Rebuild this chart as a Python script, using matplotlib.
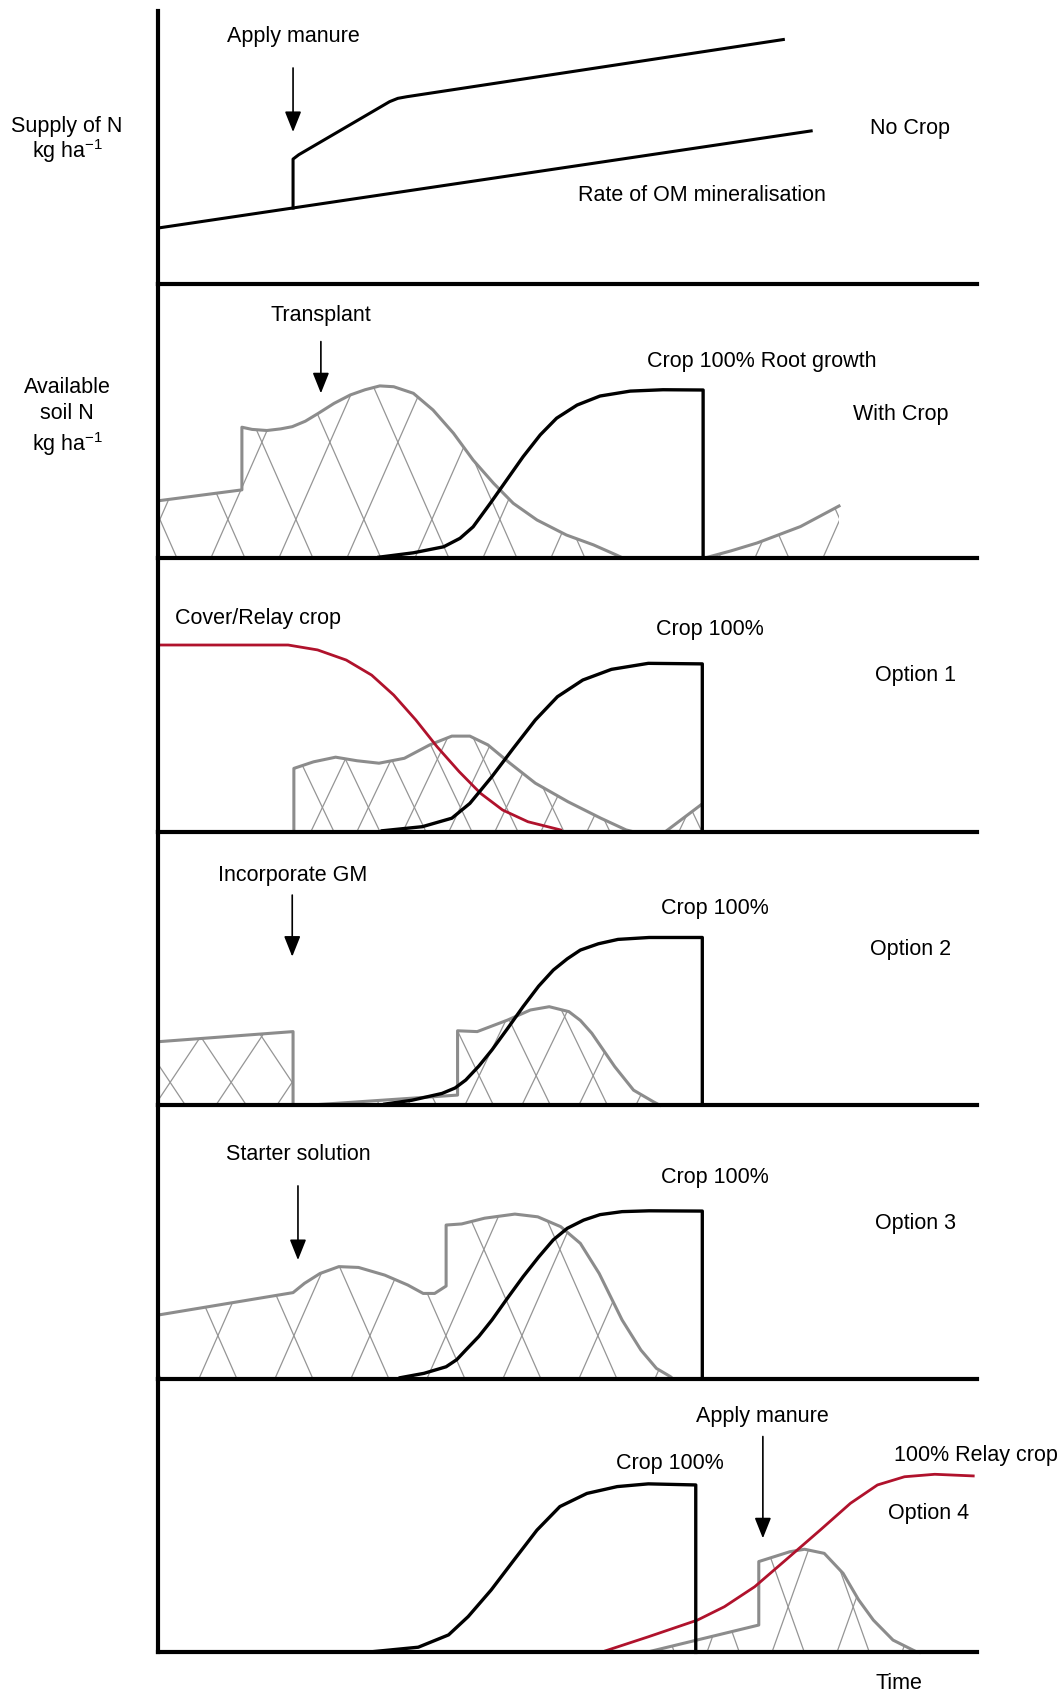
import numpy as np
import matplotlib
matplotlib.use("Agg")
import matplotlib.pyplot as plt
from matplotlib.patches import Polygon
from matplotlib.collections import LineCollection

plt.rcParams['font.family'] = ['Liberation Sans', 'DejaVu Sans']
plt.rcParams['font.size'] = 15.5

# ---- data (time 0-100 along x, N 0-100 within each panel) ----
# panel 1: no crop
om_t = [0, 79.8]
om_n = [20.6, 56.1]
manure_t = [16.5, 16.5, 17.2, 28.3, 29.3, 30.4, 76.4]
manure_n = [27.9, 45.8, 47.4, 66.8, 68.0, 68.6, 89.5]

# panel 2: with crop
soil2_t = [0, 10.25, 10.25, 11.5, 13.3, 15.0, 16.4, 18.0, 19.6, 21.5, 23.5, 25.3, 27.1, 28.8,
           31.2, 33.6, 36.1, 38.5, 41.0, 43.4, 46.3, 49.9, 53.2, 56.0, 56.8]
soil2_n = [20.9, 24.9, 47.8, 47.0, 46.6, 47.2, 48.0, 50.0, 52.9, 56.5, 59.6, 61.5, 62.9, 62.6,
           60.2, 54.1, 45.6, 35.8, 27.3, 20.0, 13.9, 8.4, 4.8, 1.1, 0]
soil2b_t = [66.8, 70.0, 73.2, 78.5, 83.2]
soil2b_n = [0, 2.6, 5.5, 11.5, 19.0]
crop2_t = [27.0, 31.2, 34.9, 36.9, 38.5, 40.6, 42.6, 44.6, 46.7, 48.7, 51.2, 54.0, 57.7, 61.7, 66.6, 66.6]
crop2_n = [0.3, 1.9, 4.1, 7.2, 11.4, 20.0, 28.5, 37.0, 45.0, 51.1, 55.9, 59.2, 61.0, 61.5, 61.4, 0]

# panel 3: option 1
relay3_t = [0, 15.9, 19.5, 23.0, 26.1, 28.8, 31.5, 34.1, 36.8, 39.4, 42.1, 45.2, 49.2]
relay3_n = [68.2, 68.2, 66.4, 62.7, 57.2, 49.9, 40.8, 31.0, 21.9, 14.0, 7.9, 3.6, 0.6]
soil3_t = [16.6, 16.6, 19.0, 21.7, 24.3, 27.0, 30.1, 33.2, 35.9, 38.1, 40.3, 43.0, 46.1, 50.1, 54.1, 57.2, 58.0]
soil3_n = [0, 23.1, 25.5, 27.2, 25.9, 25.0, 26.8, 31.7, 34.9, 34.9, 31.7, 25.0, 17.7, 10.9, 4.9, 0.6, 0]
soil3b_t = [62.0, 66.3]
soil3b_n = [0, 9.7]
crop3_t = [27.4, 32.3, 35.9, 38.1, 40.8, 43.4, 46.1, 48.8, 51.9, 55.4, 59.9, 66.5, 66.5]
crop3_n = [0.3, 1.8, 4.9, 10.3, 20.1, 30.4, 40.8, 49.3, 55.4, 59.3, 61.5, 61.3, 0]

# panel 4: option 2
soil4a_t = [0, 16.5, 16.5]
soil4a_n = [23.2, 26.9, 0]
soil4_t = [18.4, 36.6, 36.6, 39.0, 42.7, 45.5, 47.8, 50.2, 51.6, 53.0, 55.8, 58.1, 60.5, 61.3]
soil4_n = [0, 3.7, 27.2, 26.9, 31.1, 34.8, 36.0, 34.2, 31.0, 26.3, 14.1, 5.5, 1.3, 0]
crop4_t = [27.7, 31.0, 34.7, 36.3, 37.6, 39.2, 40.8, 42.7, 44.6, 46.5, 48.3, 50.0, 51.6, 53.8, 56.2, 60.0, 66.5, 66.5]
crop4_n = [0.4, 1.8, 4.3, 6.3, 9.2, 14.3, 20.2, 28.0, 36.0, 43.5, 49.4, 53.5, 56.7, 59.0, 60.6, 61.3, 61.3, 0]

# panel 5: option 3
soil5_t = [0, 16.5, 17.9, 19.8, 22.1, 24.5, 27.7, 30.5, 32.4, 33.8, 35.2, 35.2, 37.1, 39.9,
           43.6, 46.4, 49.2, 51.6, 53.9, 56.7, 59.0, 60.9, 62.6, 62.9]
soil5_n = [23.3, 31.5, 34.9, 38.5, 41.0, 40.7, 37.9, 34.3, 31.2, 31.2, 33.9, 56.2, 56.6, 58.7,
           60.2, 59.2, 55.6, 49.5, 38.5, 21.5, 10.5, 3.8, 0.8, 0]
crop5_t = [29.6, 32.5, 35.2, 36.5, 37.6, 39.2, 40.8, 42.7, 44.6, 46.5, 48.3, 50.0, 52.0, 54.0, 56.7, 60.0, 66.5, 66.5]
crop5_n = [0.4, 2.0, 4.4, 7.0, 10.5, 15.5, 21.5, 29.5, 37.3, 44.5, 50.8, 55.0, 58.0, 60.0, 61.1, 61.4, 61.3, 0]

# panel 6: option 4
crop6_t = [26.0, 31.8, 35.5, 37.9, 40.7, 43.5, 46.3, 49.1, 52.4, 56.1, 59.9, 65.7, 65.7]
crop6_n = [0.2, 1.9, 6.4, 13.1, 22.8, 33.8, 44.7, 53.3, 58.1, 60.6, 61.6, 61.2, 0]
relay6_t = [54.7, 59.9, 65.9, 69.2, 72.9, 76.7, 80.9, 84.6, 87.9, 91.2, 94.9, 99.6]
relay6_n = [0.6, 5.7, 11.8, 16.7, 24.0, 33.8, 44.7, 54.5, 61.2, 64.2, 65.1, 64.5]
soil6_t = [59.9, 73.4, 73.4, 77.2, 79.0, 81.4, 83.7, 85.6, 87.4, 89.8, 92.6, 93.0]
soil6_n = [0.2, 10.0, 33.2, 36.8, 37.7, 36.2, 28.9, 19.2, 11.8, 4.5, 0.3, 0]

# arrows: (panel, time, top N, tip N, label, label N)
arrows = [(0, 16.5, 79.1, 55.7, 'Apply manure', 90.5),
          (1, 19.9, 79.1, 60.2, 'Transplant', 88.5),
          (3, 16.4, 76.8, 54.3, 'Incorporate GM', 84.1),
          (4, 17.1, 70.5, 43.4, 'Starter solution', 81.8),
          (5, 73.9, 78.9, 41.7, 'Apply manure', 86.2)]

# free labels: (panel, time, N, text, ha)
labels = [(0, 66.4, 32.4, 'Rate of OM mineralisation', 'center'),
          (0, 91.9, 56.9, 'No Crop', 'center'),
          (1, 73.8, 71.9, 'Crop 100% Root growth', 'center'),
          (1, 90.8, 52.6, 'With Crop', 'center'),
          (2, 2.1, 77.9, 'Cover/Relay crop', 'left'),
          (2, 67.4, 73.9, 'Crop 100%', 'center'),
          (2, 92.6, 56.9, 'Option 1', 'center'),
          (3, 68.0, 71.9, 'Crop 100%', 'center'),
          (3, 91.9, 56.9, 'Option 2', 'center'),
          (4, 68.0, 73.5, 'Crop 100%', 'center'),
          (4, 92.6, 56.9, 'Option 3', 'center'),
          (5, 62.5, 69.2, 'Crop 100%', 'center'),
          (5, 99.9, 71.9, '100% Relay crop', 'center'),
          (5, 94.1, 50.6, 'Option 4', 'center'),
          (5, 90.5, -11.5, 'Time', 'center')]

ylabels = [(0, 52.6, 'Supply of N\nkg ha$^{\\mathregular{-1}}$', 1.05),
           (1, 51.4, 'Available\nsoil N\nkg ha$^{\\mathregular{-1}}$', 1.3)]

# ---- styles ----
GREY = '#8c8c8c'
HATCH = '#959595'
RED = '#b0122c'
W, H = 1063, 1696
AX_L, AX_W, AX_H, FIRST_B = 158, 818.5, 273.6, 284.4

fig = plt.figure(figsize=(W / 100, H / 100), dpi=100)
axes = []
for i in range(6):
    b = FIRST_B + AX_H * i
    ax = fig.add_axes([AX_L / W, 1 - b / H, AX_W / W, AX_H / H])
    ax.set_xlim(0, 100)
    ax.set_ylim(0, 100)
    ax.set_xticks([])
    ax.set_yticks([])
    for s in ['top', 'right']:
        ax.spines[s].set_visible(False)
    for s in ['left', 'bottom']:
        ax.spines[s].set_linewidth(3.0)
        ax.spines[s].set_capstyle('projecting')
    ax.patch.set_alpha(0)
    axes.append(ax)


def hatched(ax, t, n, slope_px, gap_px):
    pts = list(zip(t, n))
    if pts[-1][1] != 0:
        pts.append((pts[-1][0], 0))
    if pts[0][1] != 0:
        pts.append((pts[0][0], 0))
    poly = Polygon(pts, closed=True, fc='none', ec='none')
    ax.add_patch(poly)
    k = slope_px * (100 / AX_H) / (100 / AX_W)
    gap = gap_px * 100 / AX_W
    t0 = np.arange(-60, 160, gap)
    segs = [[(a, 0), (a + 100 / k, 100)] for a in t0]
    segs += [[(a + gap / 2, 0), (a + gap / 2 - 100 / k, 100)] for a in t0]
    lc = LineCollection(segs, colors=HATCH, linewidths=0.9)
    ax.add_collection(lc)
    lc.set_clip_path(poly)


def soil(ax, t, n, slope_px, gap_px):
    hatched(ax, t, n, slope_px, gap_px)
    ax.plot(t, n, color=GREY, lw=2.2, solid_joinstyle='round', clip_on=False)


def crop(ax, t, n):
    ax.plot(t, n, color='k', lw=2.4, solid_joinstyle='round', clip_on=False)


# panel 1
ax = axes[0]
ax.plot(om_t, om_n, color='k', lw=2.2)
ax.plot(manure_t, manure_n, color='k', lw=2.2, solid_joinstyle='round')

# panel 2
soil(axes[1], soil2_t, soil2_n, 2.27, 68)
soil(axes[1], soil2b_t, soil2b_n, 2.27, 68)
crop(axes[1], crop2_t, crop2_n)

# panel 3
soil(axes[2], soil3_t, soil3_n, 2.1, 46)
hatched(axes[2], soil3b_t + [66.6], soil3b_n + [0], 2.1, 46)
axes[2].plot(soil3b_t, soil3b_n, color=GREY, lw=2.2)
axes[2].plot(relay3_t, relay3_n, color=RED, lw=2.0, solid_joinstyle='round')
crop(axes[2], crop3_t, crop3_n)

# panel 4
soil(axes[3], soil4a_t, soil4a_n, 1.5, 61)
soil(axes[3], soil4_t, soil4_n, 2.07, 57)
crop(axes[3], crop4_t, crop4_n)

# panel 5
soil(axes[4], soil5_t, soil5_n, 2.27, 76)
crop(axes[4], crop5_t, crop5_n)

# panel 6
soil(axes[5], soil6_t, soil6_n, 2.8, 65)
axes[5].plot(relay6_t, relay6_n, color=RED, lw=2.0, solid_joinstyle='round', clip_on=False)
crop(axes[5], crop6_t, crop6_n)

for p, t, top, tip, txt, ty in arrows:
    ax = axes[p]
    ax.annotate('', xy=(t, tip), xytext=(t, top),
                arrowprops=dict(arrowstyle='-|>,head_length=0.7,head_width=0.28',
                                mutation_scale=18, color='k', lw=1.2,
                                shrinkA=0, shrinkB=0))
    ax.text(t, ty, txt, ha='center', va='center')

for p, t, n, txt, ha in labels:
    axes[p].text(t, n, txt, ha=ha, va='center', clip_on=False)

for p, n, txt, ls in ylabels:
    axes[p].text(-11.1, n, txt, ha='center', va='center', linespacing=ls,
                 clip_on=False)

fig.savefig('out.png', dpi=100)
